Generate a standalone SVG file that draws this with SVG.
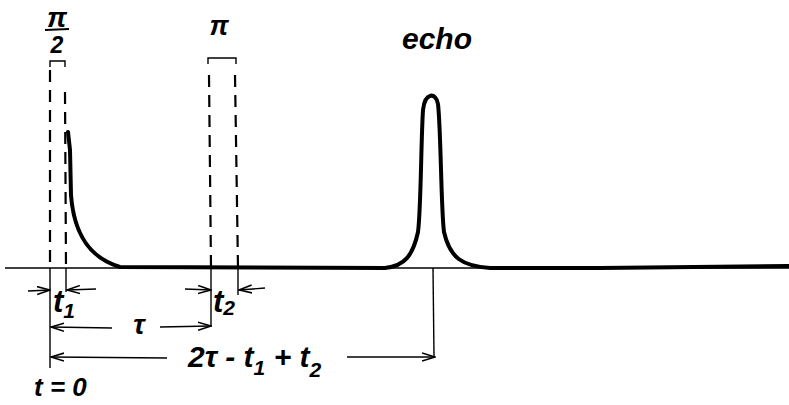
<svg xmlns="http://www.w3.org/2000/svg" width="789" height="405" viewBox="0 0 789 405">
<defs>
<marker id="ah" markerWidth="14" markerHeight="10" refX="13" refY="5" orient="auto" markerUnits="userSpaceOnUse">
<path d="M0,1 L13,5 L0,9" fill="none" stroke="#000" stroke-width="1.6"/>
</marker>
</defs>
<style>
.t{font-family:"Liberation Sans",Arial,sans-serif;font-weight:bold;font-style:italic;fill:#000}
.dash{stroke:#000;stroke-width:2.2;stroke-dasharray:12 8;fill:none}
.thin{stroke:#000;stroke-width:1.4;fill:none}
.sig{stroke:#000;stroke-width:4;fill:none;stroke-linejoin:round;stroke-linecap:round}
</style>
<rect width="789" height="405" fill="#fff"/>
<g id="pulse90">
<path class="thin" d="M50,67 L50,61 L65,61 L65,67" stroke-width="2"/>
<line class="dash" x1="50" y1="70" x2="50" y2="268"/>
<line class="dash" x1="65" y1="92" x2="66" y2="268"/>
<text class="t" x="57" y="27" font-size="28" text-anchor="middle">π</text>
<line x1="45" y1="30" x2="69" y2="29" stroke="#000" stroke-width="2.2"/>
<text class="t" x="57" y="53" font-size="23" text-anchor="middle">2</text>
</g>
<g id="pulse180">
<path class="thin" d="M208,64 L208,58 L236,58 L236,64" stroke-width="2"/>
<line class="dash" x1="209" y1="75" x2="211" y2="268"/>
<line class="dash" x1="235" y1="75" x2="238" y2="268"/>
<text class="t" x="219" y="35" font-size="27" text-anchor="middle">π</text>
</g>
<g id="signal">
<line class="thin" x1="5" y1="268" x2="789" y2="268"/>
<path class="sig" d="M68,132 L70,150 L71,195 C74,235 90,258 120,267 L385,268 C405,266 413,255 418,232 C421,210 421,140 423,110 C425,92 436,92 438,104 C441,130 441,210 444,232 C450,258 462,266 490,268 L600,268 L789,266"/>
<text class="t" x="437" y="49" font-size="30" text-anchor="middle">echo</text>
</g>
<g id="connectors">
<line class="thin" x1="50" y1="268" x2="50" y2="368"/>
<line class="thin" x1="211" y1="268" x2="211" y2="327"/>
<line class="thin" x1="433" y1="268" x2="434" y2="356"/>
<line class="thin" x1="66" y1="268" x2="66" y2="292"/>
<line class="thin" x1="238" y1="268" x2="238" y2="295"/>
<line class="thin" x1="28" y1="291" x2="50" y2="290" marker-end="url(#ah)"/>
<line class="thin" x1="96" y1="289" x2="67" y2="290" marker-end="url(#ah)"/>
<line class="thin" x1="185" y1="289" x2="211" y2="290" marker-end="url(#ah)"/>
<line class="thin" x1="265" y1="288" x2="239" y2="290" marker-end="url(#ah)"/>
<line class="thin" x1="112" y1="328" x2="51" y2="327" marker-end="url(#ah)"/>
<line class="thin" x1="160" y1="327" x2="211" y2="326" marker-end="url(#ah)"/>
<line class="thin" x1="167" y1="358" x2="51" y2="357" marker-end="url(#ah)"/>
<line class="thin" x1="347" y1="357" x2="435" y2="357" marker-end="url(#ah)"/>
<text class="t" x="53" y="312" font-size="31">t<tspan font-size="21" dy="6">1</tspan></text>
<text class="t" x="213" y="312" font-size="31">t<tspan font-size="21" dy="3">2</tspan></text>
<text class="t" x="139" y="334" font-size="28" text-anchor="middle">τ</text>
<text class="t" x="188" y="367" font-size="30">2τ - t<tspan font-size="21" dy="8">1</tspan><tspan dy="-8"> + t</tspan><tspan font-size="21" dy="10">2</tspan></text>
<text class="t" x="34" y="396" font-size="26">t = 0</text>
</g>
</svg>
